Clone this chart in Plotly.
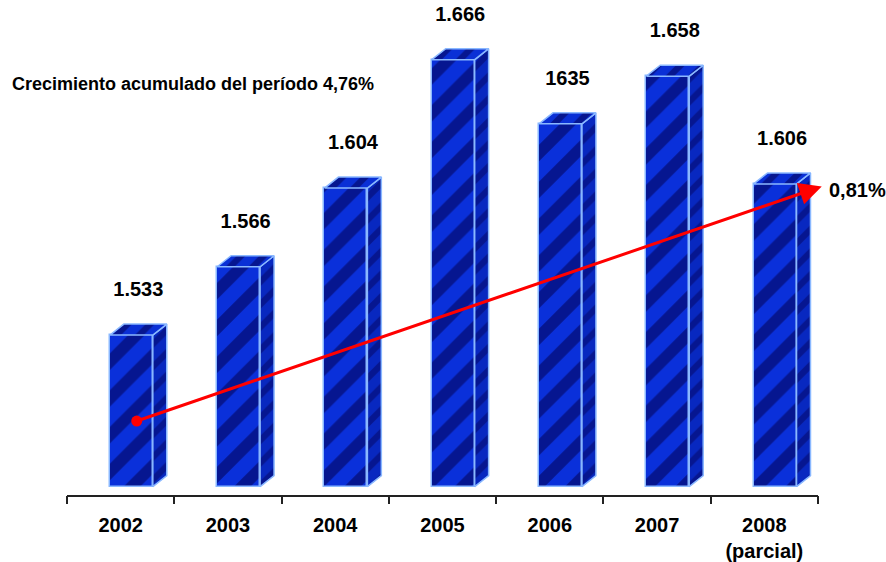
import plotly.graph_objects as go

# Data
years = ["2002", "2003", "2004", "2005", "2006", "2007", "2008<br>(parcial)"]
values = [1533, 1566, 1604, 1666, 1635, 1658, 1606]
value_labels = ["1.533", "1.566", "1.604", "1.666", "1635", "1.658", "1.606"]
growth_note = "Crecimiento acumulado del período 4,76%"
trend_label = "0,81%"

# Axis / geometry settings
Y_MIN, Y_MAX = 1456.0, 1694.8
BASE = 1459.8          # floor level of the columns
BAR_OFFSET, BAR_WIDTH = -0.10, 0.40
DEPTH_X, DEPTH_Y = 0.13, 5.3   # 3D depth of each column (x units, y units)
LABEL_GAP = 16.0

FACE = "#0a30da"
STRIPE = "#061690"
EDGE = "#8ab8ff"
FONT = "Arial, Liberation Sans, sans-serif"

xs = list(range(len(years)))
fig = go.Figure()

# Front faces of the columns
fig.add_trace(go.Bar(
    x=xs, y=[v - BASE for v in values], base=BASE,
    width=BAR_WIDTH, offset=BAR_OFFSET,
    marker=dict(color=FACE, line=dict(color=EDGE, width=1.5),
                pattern=dict(shape="/", fgcolor=STRIPE, bgcolor=FACE,
                             size=26, solidity=0.45, fillmode="replace")),
    hoverinfo="skip", showlegend=False,
))

# Side and top faces for the 3D look
for x, v in zip(xs, values):
    x0 = x + BAR_OFFSET
    x1 = x0 + BAR_WIDTH
    side_x = [x1, x1 + DEPTH_X, x1 + DEPTH_X, x1, x1]
    side_y = [BASE, BASE + DEPTH_Y, v + DEPTH_Y, v, BASE]
    top_x = [x0, x1, x1 + DEPTH_X, x0 + DEPTH_X, x0]
    top_y = [v, v, v + DEPTH_Y, v + DEPTH_Y, v]
    for px, py, col in ((side_x, side_y, "#0828c0"), (top_x, top_y, "#0a30d6")):
        fig.add_trace(go.Scatter(
            x=px, y=py, mode="lines", fill="toself", fillcolor=col,
            fillpattern=dict(shape="/", fgcolor=STRIPE, bgcolor=col,
                             size=16, solidity=0.4, fillmode="replace"),
            line=dict(color=EDGE, width=1.5),
            hoverinfo="skip", showlegend=False,
        ))

# Value labels above each column
fig.add_trace(go.Scatter(
    x=[x + BAR_OFFSET + (BAR_WIDTH + DEPTH_X) / 2 for x in xs],
    y=[v + DEPTH_Y + LABEL_GAP for v in values],
    mode="text", text=value_labels, textposition="middle center",
    textfont=dict(family=FONT, size=20, color="#000000", weight="bold"),
    hoverinfo="skip", showlegend=False,
))

# Trend arrow
trend_start = (0.15, 1491.5)
trend_end = (6.535, 1604.8)
fig.add_trace(go.Scatter(
    x=[trend_start[0]], y=[trend_start[1]], mode="markers",
    marker=dict(color="#ff0000", size=11),
    hoverinfo="skip", showlegend=False,
))
fig.add_annotation(
    x=trend_end[0], y=trend_end[1], ax=trend_start[0], ay=trend_start[1],
    xref="x", yref="y", axref="x", ayref="y",
    showarrow=True, arrowhead=2, arrowsize=1.5, arrowwidth=3,
    arrowcolor="#ff0000", text="",
)
fig.add_annotation(
    x=0.9334, y=0.6584, xref="paper", yref="paper", text=trend_label,
    showarrow=False, xanchor="left", yanchor="middle",
    font=dict(family=FONT, size=20, color="#000000", weight="bold"),
)
fig.add_annotation(
    x=0.011, y=0.849, xref="paper", yref="paper", text=growth_note,
    showarrow=False, xanchor="left", yanchor="middle",
    font=dict(family=FONT, size=18, color="#000000", weight="bold"),
)

x_domain = [67 / 886, 818 / 886]
x_range = [-0.5, len(years) - 0.5]
fig.update_layout(
    width=886, height=562,
    margin=dict(l=0, r=0, t=0, b=0),
    paper_bgcolor="white", plot_bgcolor="white",
    bargap=0,
    xaxis=dict(domain=x_domain, range=x_range, tickvals=xs, ticktext=years,
               ticks="outside", ticklen=12, tickcolor="rgba(0,0,0,0)",
               showgrid=False, zeroline=False, showline=False,
               tickfont=dict(family=FONT, size=20, color="#000000",
                             weight="bold")),
    xaxis2=dict(domain=x_domain, range=x_range, overlaying="x", side="bottom",
                anchor="y", tickvals=[i - 0.5 for i in range(len(years) + 1)],
                ticks="outside", ticklen=8, tickcolor="#222222", tickwidth=1.5,
                showticklabels=False, showgrid=False, zeroline=False,
                showline=True, linecolor="#222222", linewidth=1.5),
    yaxis=dict(domain=[1 - 499 / 562, 1], range=[Y_MIN, Y_MAX], visible=False,
               showgrid=False, zeroline=False),
)
# Dummy trace so the boundary-tick axis is drawn
fig.add_trace(go.Scatter(x=[0], y=[Y_MIN], xaxis="x2", mode="markers",
                         marker=dict(opacity=0), hoverinfo="skip",
                         showlegend=False))

fig.write_html("out.html")
